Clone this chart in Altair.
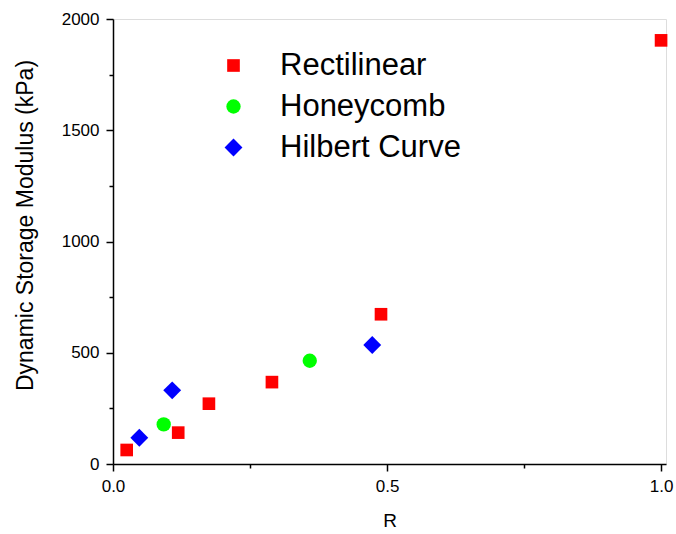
import altair as alt
import pandas as pd

# Measured storage modulus against R for three infill patterns
series_names = ["Rectilinear", "Honeycomb", "Hilbert Curve"]

rect_r = [0.025, 0.119, 0.175, 0.290, 0.489, 1.0]
rect_modulus = [63, 141, 271, 368, 673, 1904]

honey_r = [0.0925, 0.359]
honey_modulus = [178, 464]

hilbert_r = [0.048, 0.108, 0.473]
hilbert_modulus = [118, 331, 535]

x_ticks = [0.0, 0.25, 0.5, 0.75, 1.0]
y_ticks = [0, 250, 500, 750, 1000, 1250, 1500, 1750, 2000]

rows = []
for name, rs, ms in [
    (series_names[0], rect_r, rect_modulus),
    (series_names[1], honey_r, honey_modulus),
    (series_names[2], hilbert_r, hilbert_modulus),
]:
    for r, m in zip(rs, ms):
        rows.append({"R": r, "modulus": m, "pattern": name})
df = pd.DataFrame(rows)

FONT = "Liberation Sans"

x_axis = alt.Axis(
    values=x_ticks,
    format=".1f",
    labelExpr="datum.value % 0.5 == 0 ? datum.label : ''",
    labelFlush=False,
    labelOverlap=False,
    grid=False,
    domainColor="black",
    domainWidth=1.5,
    tickColor="black",
    tickWidth=1.5,
    tickSize={"condition": {"test": "datum.value % 0.5 == 0", "value": 7}, "value": 4},
    labelFont=FONT,
    labelFontSize=17,
    labelColor="black",
    labelPadding=7,
    title="R",
    titleFont=FONT,
    titleFontSize=19,
    titleFontWeight="normal",
    titleColor="black",
    titleBaseline="alphabetic",
    titleY=62,
)

y_axis = alt.Axis(
    values=y_ticks,
    format="d",
    labelExpr="datum.value % 500 == 0 ? datum.label : ''",
    labelFlush=False,
    labelOverlap=False,
    grid=False,
    domainColor="black",
    domainWidth=1.5,
    tickColor="black",
    tickWidth=1.5,
    tickSize={"condition": {"test": "datum.value % 500 == 0", "value": 7}, "value": 4},
    labelFont=FONT,
    labelFontSize=17,
    labelColor="black",
    labelPadding=7,
    title="Dynamic Storage Modulus (kPa)",
    titleFont=FONT,
    titleFontSize=23,
    titleFontWeight="normal",
    titleColor="black",
    titleBaseline="alphabetic",
    titleAngle=270,
    titleX=-81,
    titleY=206,
)

legend = alt.Legend(
    title=None,
    orient="none",
    legendX=105,
    legendY=31,
    padding=0,
    labelFont=FONT,
    labelFontSize=31,
    labelColor="black",
    labelOffset=31,
    labelLimit=0,
    rowPadding=9,
    symbolStrokeWidth=0,
)

chart = (
    alt.Chart(df)
    .mark_point(filled=True, opacity=1, strokeWidth=0)
    .encode(
        x=alt.X("R:Q", scale=alt.Scale(domain=[0, 1.009], nice=False, zero=False), axis=x_axis),
        y=alt.Y("modulus:Q", scale=alt.Scale(domain=[0, 2000], nice=False), axis=y_axis),
        color=alt.Color(
            "pattern:N",
            scale=alt.Scale(domain=series_names, range=["#ff0000", "#00ff00", "#0000ff"]),
            legend=legend,
        ),
        shape=alt.Shape(
            "pattern:N",
            scale=alt.Scale(domain=series_names, range=["square", "circle", "diamond"]),
            legend=legend,
        ),
        size=alt.Size(
            "pattern:N",
            scale=alt.Scale(type="ordinal", domain=series_names, range=[160, 205, 320]),
            legend=legend,
        ),
    )
    .properties(
        width=553,
        height=445,
        autosize="none",
        padding={"left": 113, "top": 19, "right": 10, "bottom": 70},
    )
    .configure_view(stroke=None)
    .configure(background="white")
)

chart.save("out.html", embed_options={"renderer": "svg", "actions": False})
